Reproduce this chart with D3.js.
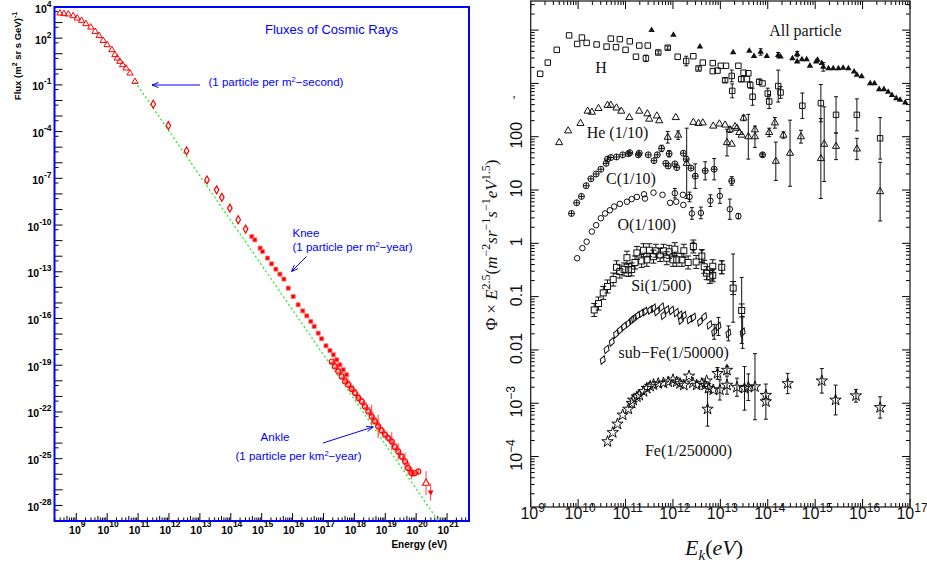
<!DOCTYPE html>
<html>
<head>
<meta charset="utf-8">
<script src="https://cdn.jsdelivr.net/npm/d3@7"></script>
<style>
body { margin: 0; background: #fff; }
</style>
</head>
<body>
<script>
// ---------- left panel: all-particle flux, values are [log10(E/eV), log10(flux), err in decades]
var fluxTri = [[8.47,3.60],[8.60,3.56],[8.74,3.54],[8.90,3.43],[9.03,3.28],[9.17,3.13],[9.31,2.92],[9.47,2.70],[9.61,2.42],[9.74,2.15],[9.87,1.84],[10.00,1.57],[10.15,1.25],[10.25,0.93],[10.33,0.71],[10.41,0.50],[10.50,0.28],[10.61,0.07],[10.74,-0.25],[10.90,-0.79]];
var fluxDiamond = [[11.49,-2.24],[11.98,-3.61],[12.57,-5.24],[13.23,-7.10],[13.54,-7.74],[13.71,-8.22],[13.97,-8.91],[14.24,-9.66],[14.48,-10.26]];
var fluxKnee = [[14.68,-10.74],[14.78,-10.95],[14.95,-11.48],[15.03,-11.70],[15.19,-12.12],[15.32,-12.49],[15.46,-12.83],[15.59,-13.15],[15.72,-13.47],[15.86,-14.05],[16.02,-14.59],[16.18,-15.12],[16.33,-15.51],[16.46,-15.83],[16.59,-16.19],[16.70,-16.51],[16.83,-16.94],[16.94,-17.30],[17.08,-17.75],[17.21,-18.05],[17.32,-18.33],[17.43,-18.65],[17.53,-18.97],[17.64,-19.29],[17.75,-19.61]];
var fluxUheA = [[17.27,-18.76,0],[17.37,-19.08,0],[17.48,-19.40,0],[17.59,-19.72,0],[17.70,-20.04,0],[17.80,-20.25,0],[17.91,-20.53,0],[18.02,-20.79,0],[18.13,-21.11,0],[18.24,-21.33,0],[18.34,-21.65,0],[18.45,-21.97,0],[18.56,-22.29,0.75],[18.67,-22.61,0],[18.77,-22.93,0.75],[18.88,-23.19,0],[18.99,-23.46,0],[19.10,-23.68,0],[19.21,-23.89,0.59],[19.31,-24.25,0],[19.42,-24.54,0.53],[19.53,-24.86,0],[19.64,-25.18,0.58],[19.74,-25.60,0.43],[19.85,-25.92,0.4],[19.96,-25.92,0],[20.07,-25.82,0.2]];
var fluxUheB = [[17.32,-18.85],[17.43,-19.15],[17.55,-19.45],[17.66,-19.80],[17.77,-20.05],[17.88,-20.35],[17.97,-20.60],[18.08,-20.90],[18.19,-21.15],[18.30,-21.45],[18.41,-21.75],[18.52,-22.05],[18.62,-22.40],[18.72,-22.70],[18.83,-23.00],[18.94,-23.30],[19.05,-23.55],[19.16,-23.80],[19.26,-24.05],[19.37,-24.35],[19.48,-24.70],[19.58,-25.00],[19.70,-25.35],[19.80,-25.70],[19.90,-25.95]];
var fluxTop = [[20.32,-26.57,0.77]];
var fluxLimit = [[20.47,-27.15,0.55]];
var guideLine = [[10.9,-0.8],[20.71,-28.98]];
var fluxYExp = [4, 2, -1, -4, -7, -10, -13, -16, -19, -22, -25, -28];
var fluxXExp = [9, 10, 11, 12, 13, 14, 15, 16, 17, 18, 19, 20, 21];

// ---------- right panel: [log10(E/eV), log10(Phi*E^2.5), err in decades]
var allPart = [[11.55,4.00,0],[12.01,3.91,0],[12.57,3.69,0],[13.27,3.58,0],[13.61,3.61,0],[13.71,3.51,0],[13.85,3.59,0.06],[13.98,3.51,0],[14.22,3.53,0.05],[14.27,3.50,0],[14.52,3.47,0],[14.62,3.55,0.05],[14.62,3.41,0],[14.72,3.45,0],[14.82,3.45,0],[14.89,3.33,0],[15.02,3.41,0],[15.05,3.44,0],[15.14,3.38,0],[15.17,3.31,0.08],[15.28,3.28,0],[15.38,3.28,0],[15.49,3.28,0],[15.59,3.29,0],[15.70,3.28,0],[15.82,3.22,0],[15.88,3.16,0],[15.98,3.13,0],[16.16,3.00,0],[16.25,3.00,0],[16.35,2.89,0],[16.45,2.89,0],[16.54,2.84,0],[16.62,2.78,0],[16.71,2.72,0],[16.79,2.69,0],[16.90,2.64,0]];
var protons = [[9.20,3.18,0],[9.36,3.39,0],[9.55,3.63,0],[9.81,3.90,0],[9.98,3.74,0],[10.08,3.86,0],[10.18,3.76,0],[10.39,3.73,0],[10.60,3.69,0],[10.69,3.84,0],[10.80,3.68,0],[10.88,3.83,0],[11.00,3.63,0],[11.09,3.79,0],[11.22,3.50,0],[11.29,3.71,0],[11.43,3.47,0.06],[11.47,3.71,0],[11.69,3.58,0.03],[11.89,3.67,0.03],[12.10,3.50,0],[12.28,3.42,0.09],[12.43,3.51,0],[12.54,3.28,0.03],[12.63,3.39,0],[12.84,3.38,0],[12.84,3.23,0],[12.94,3.24,0],[13.01,3.33,0],[13.12,3.33,0],[13.10,3.06,0.04],[13.24,3.14,0.11],[13.25,2.86,0.13],[13.38,3.33,0],[13.49,3.20,0],[13.44,3.08,0.05],[13.59,3.19,0],[13.56,3.08,0],[13.63,2.97,0.06],[13.68,2.75,0.16],[13.82,3.03,0.05],[13.89,3.00,0],[14.00,2.81,0.1],[14.03,2.66,0.13],[14.22,2.95,0.3],[14.27,2.83,0.11],[14.73,2.58,0.24],[15.12,2.63,0.35],[15.44,2.41,0.34],[15.88,2.41,0.30],[16.37,1.97,0.39]];
var helium = [[9.60,1.89,0],[9.79,2.11,0],[10.05,2.25,0],[10.20,2.48,0],[10.29,2.46,0],[10.43,2.53,0],[10.62,2.59,0],[10.69,2.59,0],[10.81,2.54,0],[10.91,2.48,0],[11.08,2.36,0],[11.29,2.48,0],[11.46,2.43,0],[11.50,2.33,0],[11.66,2.39,0],[11.71,2.30,0],[12.06,2.36,0],[11.89,1.99,0.11],[12.11,2.03,0.08],[12.29,1.50,0.66],[12.43,2.27,0],[12.54,2.25,0],[12.63,2.26,0],[12.85,2.20,0],[12.98,2.24,0],[13.10,2.22,0],[13.14,1.89,0.25],[13.24,1.86,0],[13.20,2.13,0.05],[13.31,2.19,0],[13.35,2.16,0],[13.40,2.08,0],[13.45,2.03,0],[13.49,2.35,0.05],[13.59,2.00,0.42],[13.73,2.00,0.2],[13.73,2.13,0],[14.03,2.08,0.08],[14.15,2.26,0.1],[14.17,1.54,0.36],[14.33,2.03,0.06],[14.47,1.69,0.62],[14.70,2.00,0.12],[15.12,1.59,0.75],[15.19,1.86,0.70],[15.44,1.82,0.25],[15.88,1.77,0.2],[16.37,0.97,0.55]];
var carbon = [[9.86,0.56,0],[9.97,0.76,0],[10.07,0.88,0],[10.17,1.08,0],[10.27,1.21,0],[10.38,1.30,0],[10.48,1.39,0],[10.59,1.50,0],[10.62,1.58,0],[10.69,1.61,0],[10.81,1.62,0],[10.94,1.66,0],[11.06,1.68,0],[11.09,1.70,0],[11.27,1.66,0],[11.29,1.69,0],[11.48,1.66,0],[11.60,1.55,0],[11.67,1.66,0],[11.76,1.78,0.06],[11.85,1.50,0],[11.92,1.68,0.06],[11.90,1.45,0],[12.04,1.49,0],[12.08,1.42,0],[12.22,1.69,0],[12.28,1.58,0],[12.38,1.41,0],[12.47,1.26,0.23],[12.68,1.36,0.17],[12.87,1.39,0.2],[13.24,1.17,0.08],[13.89,1.66,0.03]];
var oxygen = [[9.98,-0.28,0],[10.09,-0.09,0],[10.18,0.03,0],[10.29,0.22,0],[10.38,0.34,0],[10.48,0.47,0],[10.57,0.56,0],[10.67,0.62,0],[10.76,0.69,0],[10.88,0.74,0],[11.03,0.78,0],[11.13,0.83,0],[11.24,0.87,0],[11.39,0.92,0],[11.41,0.84,0],[11.59,0.95,0],[11.78,0.91,0],[11.94,0.76,0],[12.04,0.94,0.09],[12.07,0.78,0],[12.21,0.91,0],[12.22,0.72,0],[12.35,0.87,0.09],[12.40,0.56,0.11],[12.59,0.57,0.11],[12.79,0.80,0.11],[12.99,0.89,0.14],[13.20,0.64,0.19],[13.38,0.51,0.05]];
var silicon = [[10.34,-1.25,0],[10.43,-1.13,0],[10.53,-0.93,0],[10.62,-0.81,0],[10.74,-0.68,0],[10.81,-0.45,0],[10.88,-0.53,0],[10.97,-0.49,0],[11.06,-0.50,0],[11.03,-0.27,0],[11.13,-0.49,0],[11.20,-0.36,0],[11.24,-0.18,0],[11.34,-0.33,0],[11.38,-0.13,0],[11.45,-0.31,0],[11.50,-0.13,0],[11.59,-0.25,0],[11.64,-0.14,0],[11.73,-0.22,0],[11.80,-0.14,0],[11.87,-0.28,0],[11.92,-0.16,0],[12.00,-0.31,0],[12.04,-0.11,0],[12.08,-0.31,0],[12.19,-0.31,0],[12.23,-0.14,0],[12.32,-0.36,0],[12.43,-0.06,0.08],[12.49,-0.35,0],[12.61,-0.24,0.11],[12.66,-0.44,0],[12.71,-0.56,0],[12.78,-0.63,0],[12.84,-0.43,0],[12.84,-0.60,0.09],[13.03,-0.45,0.12],[13.27,-0.84,0.64],[13.45,-1.26,0.62]];
var subIron = [[10.52,-2.19,0],[10.60,-1.99,0],[10.71,-1.85,0],[10.80,-1.70,0],[10.88,-1.63,0],[10.97,-1.56,0],[11.06,-1.50,0],[11.13,-1.44,0],[11.18,-1.41,0],[11.25,-1.36,0],[11.34,-1.31,0],[11.41,-1.28,0],[11.52,-1.25,0],[11.59,-1.22,0],[11.66,-1.28,0],[11.76,-1.20,0],[11.80,-1.35,0],[11.87,-1.25,0],[11.97,-1.26,0],[12.07,-1.30,0],[12.15,-1.35,0],[12.17,-1.44,0],[12.23,-1.36,0],[12.35,-1.43,0],[12.43,-1.39,0],[12.57,-1.47,0],[12.66,-1.38,0],[12.77,-1.53,0],[12.87,-1.66,0.14],[12.96,-1.56,0.17],[13.17,-1.69,0.14],[13.47,-1.67,0.3]];
var iron = [[10.62,-3.72,0],[10.73,-3.55,0],[10.83,-3.39,0],[10.94,-3.22,0],[11.06,-3.11,0],[11.13,-3.00,0],[11.16,-2.94,0],[11.24,-2.88,0],[11.29,-2.85,0],[11.38,-2.78,0],[11.45,-2.72,0],[11.52,-2.68,0],[11.59,-2.65,0],[11.69,-2.63,0],[11.80,-2.62,0],[11.90,-2.60,0],[12.00,-2.56,0],[12.08,-2.60,0],[12.15,-2.63,0],[12.23,-2.66,0],[12.34,-2.49,0],[12.42,-2.62,0],[12.50,-2.66,0],[12.61,-2.63,0],[12.71,-2.58,0],[12.68,-2.66,0],[12.75,-2.72,0],[12.73,-3.11,0.32],[12.85,-2.75,0],[12.94,-2.44,0.11],[12.99,-2.75,0.19],[13.14,-2.38,0.07],[13.14,-2.66,0.17],[13.35,-2.70,0.17],[13.51,-2.72,0.41],[13.59,-2.70,0.25],[13.73,-2.69,0.62],[13.96,-2.85,0],[13.96,-2.97,0.33],[14.42,-2.63,0.19],[15.14,-2.58,0.23],[15.43,-2.94,0.28],[15.86,-2.86,0.12],[16.37,-3.08,0.2]];
var specYTicks = [-4, -3, -2, -1, 0, 1, 2];
var specYLabels = [['10','-4'], ['10','-3'], ['0.01',''], ['0.1',''], ['1',''], ['10',''], ['100','']];
var specXExp = [9, 10, 11, 12, 13, 14, 15, 16, 17];
// series names: [text, log10 E at text start, log10 value at baseline]
var specNames = [
  ['All particle', 14.03, 3.89],
  ['H', 10.36, 3.20],
  ['He (1/10)', 10.18, 1.98],
  ['C(1/10)', 10.59, 1.11],
  ['O(1/100)', 10.83, 0.25],
  ['Si(1/500)', 11.12, -0.90],
  ['sub\u2212Fe(1/50000)', 10.85, -2.15],
  ['Fe(1/250000)', 11.41, -3.99]
];

var svg = d3.select('body').append('svg')
  .attr('width', 927).attr('height', 562)
  .style('background', '#fff');

var sans = '"Liberation Sans", Arial, sans-serif';
var serif = '"Liberation Serif", "Times New Roman", serif';

function errBars(g, data, x, y, color, cap) {
  g.append('g').selectAll('path')
    .data(data.filter(function(d) { return d[2] > 0; }))
    .enter().append('path')
    .attr('d', function(d) {
      var px = x(d[0]), a = y(d[1] + d[2]), b = y(d[1] - d[2]);
      return 'M' + (px - cap) + ',' + a + 'H' + (px + cap) + 'M' + px + ',' + a + 'V' + b +
        'M' + (px - cap) + ',' + b + 'H' + (px + cap);
    })
    .attr('fill', 'none').attr('stroke', color).attr('stroke-width', 1);
}

function symbols(g, data, x, y, type, size, fill, stroke, sw) {
  g.append('g').selectAll('path')
    .data(data).enter().append('path')
    .attr('transform', function(d) { return 'translate(' + x(d[0]) + ',' + y(d[1]) + ')'; })
    .attr('d', d3.symbol().type(type).size(size))
    .attr('fill', fill).attr('stroke', stroke).attr('stroke-width', sw);
}

// =============== LEFT PANEL ===============
var L = { left: 54.5, right: 469, top: 7, bottom: 521 };
var lx = d3.scaleLinear().domain([8.295, 21.71]).range([L.left, L.right]);
var ly = d3.scaleLinear().domain([-29, 4]).range([L.bottom, L.top]);
var blue = '#0000ff';
var red = '#ff0000';

var lg = svg.append('g');

// y ticks (each decade, plus 5x10^n)
var yt = [];
for (var e = -29; e <= 4; e++) {
  yt.push([e, 8]);
  if (e + Math.log10(5) < 4) yt.push([e + Math.log10(5), 4]);
}
lg.append('g').selectAll('line').data(yt).enter().append('line')
  .attr('x1', L.left).attr('x2', function(d) { return L.left + d[1]; })
  .attr('y1', function(d) { return ly(d[0]); }).attr('y2', function(d) { return ly(d[0]); })
  .attr('stroke', '#000').attr('stroke-width', 1);

// x ticks (decades + 2..9)
var xt = [];
for (var dd = 8; dd <= 21; dd++) {
  for (var k = 1; k <= 9; k++) {
    var v = dd + Math.log10(k);
    if (v > 8.3 && v < 21.7) xt.push([v, k === 1 ? 8 : (k === 5 ? 5 : 3.5)]);
  }
}
lg.append('g').selectAll('line').data(xt).enter().append('line')
  .attr('x1', function(d) { return lx(d[0]); }).attr('x2', function(d) { return lx(d[0]); })
  .attr('y1', L.bottom).attr('y2', function(d) { return L.bottom - d[1]; })
  .attr('stroke', '#000').attr('stroke-width', 1);

// frame
lg.append('rect')
  .attr('x', L.left).attr('y', L.top)
  .attr('width', L.right - L.left).attr('height', L.bottom - L.top)
  .attr('fill', 'none').attr('stroke', blue).attr('stroke-width', 2);

// y tick labels
var ylab = lg.append('g').selectAll('text').data(fluxYExp).enter().append('text')
  .attr('x', 51.5).attr('y', function(d) { return ly(d) + 5.5; })
  .attr('text-anchor', 'end')
  .style('font-family', sans).style('font-weight', 'bold').style('font-size', '10.5px');
ylab.append('tspan').text('10');
ylab.append('tspan').attr('dy', -6).style('font-size', '8.5px').text(function(d) { return d; });

// x tick labels
var xlab = lg.append('g').selectAll('text').data(fluxXExp).enter().append('text')
  .attr('x', function(d) { return lx(d) + 1; }).attr('y', 533.5)
  .attr('text-anchor', 'middle')
  .style('font-family', sans).style('font-weight', 'bold').style('font-size', '10.5px');
xlab.append('tspan').text('10');
xlab.append('tspan').attr('dy', -6.5).style('font-size', '8.5px').text(function(d) { return d; });

// axis titles
var ytitle = lg.append('text')
  .attr('transform', 'translate(21,56) rotate(-90)')
  .attr('text-anchor', 'middle')
  .style('font-family', sans).style('font-weight', 'bold').style('font-size', '9.5px');
ytitle.append('tspan').text('Flux (m');
ytitle.append('tspan').attr('dy', -4).style('font-size', '7px').text('2');
ytitle.append('tspan').attr('dy', 4).text(' sr s GeV)');
ytitle.append('tspan').attr('dy', -4).style('font-size', '7px').text('-1');

lg.append('text').attr('x', 447).attr('y', 548).attr('text-anchor', 'end')
  .style('font-family', sans).style('font-weight', 'bold').style('font-size', '10px')
  .text('Energy (eV)');

// guide line
lg.append('path')
  .attr('d', d3.line().x(function(d) { return lx(d[0]); }).y(function(d) { return ly(d[1]); })(guideLine))
  .attr('fill', 'none').attr('stroke', '#22ee22').attr('stroke-width', 1.3)
  .attr('stroke-dasharray', '2,2.5');

// data
symbols(lg, fluxTri, lx, ly, d3.symbolTriangle, 17, 'none', red, 1);
symbols(lg, fluxDiamond, lx, ly, d3.symbolDiamond, 18, 'none', red, 1.2);
symbols(lg, fluxKnee, lx, ly, d3.symbolSquare, 17, red, '#ff8080', 0.8);
errBars(lg, fluxUheA, lx, ly, '#ff4040', 0);
symbols(lg, fluxUheB, lx, ly, d3.symbolCross, 22, '#ff6060', 'none', 0);
symbols(lg, fluxUheA, lx, ly, d3.symbolCircle, 20, 'none', red, 1.2);
errBars(lg, fluxTop, lx, ly, '#ff4040', 0);
symbols(lg, fluxTop, lx, ly, d3.symbolTriangle, 22, '#fff', red, 1.1);
errBars(lg, fluxLimit, lx, ly, '#ff4040', 0);
lg.append('g').selectAll('path').data(fluxLimit).enter().append('path')
  .attr('transform', function(d) { return 'translate(' + lx(d[0]) + ',' + ly(d[1]) + ') rotate(180)'; })
  .attr('d', d3.symbol().type(d3.symbolTriangle).size(14))
  .attr('fill', red);

// annotations
var ann = lg.append('g').style('font-family', sans).attr('fill', blue);
ann.append('text').attr('x', 331.5).attr('y', 34).attr('text-anchor', 'middle')
  .style('font-size', '13px').text('Fluxes of Cosmic Rays');

function partText(x, y, anchor, pre, post) {
  var t = ann.append('text').attr('x', x).attr('y', y).attr('text-anchor', anchor)
    .style('font-size', '11.5px');
  t.append('tspan').text(pre);
  t.append('tspan').attr('dy', -4).style('font-size', '7.5px').text('2');
  t.append('tspan').attr('dy', 4).text(post);
}
partText(208.5, 86, 'start', '(1 particle per m', '\u2212second)');
ann.append('text').attr('x', 292.5).attr('y', 237).style('font-size', '11.5px').text('Knee');
partText(292.5, 251, 'start', '(1 particle per m', '\u2212year)');
ann.append('text').attr('x', 275).attr('y', 441).attr('text-anchor', 'middle').style('font-size', '11.5px').text('Ankle');
partText(298.5, 460, 'middle', '(1 particle per km', '\u2212year)');

function arrow(x1, y1, x2, y2) {
  var a = Math.atan2(y2 - y1, x2 - x1), h = 7, w = 0.38;
  var p = 'M' + x1 + ',' + y1 + 'L' + x2 + ',' + y2 +
    'M' + (x2 - h * Math.cos(a - w)) + ',' + (y2 - h * Math.sin(a - w)) + 'L' + x2 + ',' + y2 +
    'L' + (x2 - h * Math.cos(a + w)) + ',' + (y2 - h * Math.sin(a + w));
  lg.append('path').attr('d', p).attr('fill', 'none').attr('stroke', blue).attr('stroke-width', 1);
}
arrow(200, 85, 152, 85);
arrow(306.5, 256.5, 291.5, 271.5);
arrow(323, 443, 373, 427);

// =============== RIGHT PANEL ===============
var R = { left: 530.7, right: 910, top: 1, bottom: 507 };
var rx = d3.scaleLinear().domain([9, 17]).range([R.left, R.right]);
var ry = d3.scaleLinear().domain([-4.947, 4.546]).range([R.bottom, R.top]);
var rg = svg.append('g');

var rxt = [], ryt = [];
for (var d1 = 9; d1 <= 17; d1++) {
  for (var k1 = 1; k1 <= 9; k1++) {
    var v1 = d1 + Math.log10(k1);
    if (v1 <= 17.001) rxt.push([v1, k1 === 1 ? 8 : 4]);
  }
}
for (var d2 = -5; d2 <= 4; d2++) {
  for (var k2 = 1; k2 <= 9; k2++) {
    var v2 = d2 + Math.log10(k2);
    if (v2 > -4.947 && v2 < 4.546) ryt.push([v2, k2 === 1 ? 8 : 4]);
  }
}
var tk = rg.append('g').attr('stroke', '#000').attr('stroke-width', 1);
tk.selectAll('.xb').data(rxt).enter().append('line').attr('class', 'xb')
  .attr('x1', function(d) { return rx(d[0]); }).attr('x2', function(d) { return rx(d[0]); })
  .attr('y1', R.bottom).attr('y2', function(d) { return R.bottom - d[1]; });
tk.selectAll('.xt').data(rxt).enter().append('line').attr('class', 'xt')
  .attr('x1', function(d) { return rx(d[0]); }).attr('x2', function(d) { return rx(d[0]); })
  .attr('y1', R.top).attr('y2', function(d) { return R.top + d[1]; });
tk.selectAll('.yl').data(ryt).enter().append('line').attr('class', 'yl')
  .attr('y1', function(d) { return ry(d[0]); }).attr('y2', function(d) { return ry(d[0]); })
  .attr('x1', R.left).attr('x2', function(d) { return R.left + d[1]; });
tk.selectAll('.yr').data(ryt).enter().append('line').attr('class', 'yr')
  .attr('y1', function(d) { return ry(d[0]); }).attr('y2', function(d) { return ry(d[0]); })
  .attr('x1', R.right).attr('x2', function(d) { return R.right - d[1]; });

rg.append('rect').attr('x', R.left).attr('y', R.top)
  .attr('width', R.right - R.left).attr('height', R.bottom - R.top)
  .attr('fill', 'none').attr('stroke', '#222').attr('stroke-width', 1.3);

// x tick labels
var rxl = rg.append('g').selectAll('text').data(specXExp).enter().append('text')
  .attr('x', function(d) { return rx(d) + 2; }).attr('y', 518.5)
  .attr('text-anchor', 'middle')
  .style('font-family', sans).style('font-size', '16px').attr('fill', '#111');
rxl.append('tspan').text('10');
rxl.append('tspan').attr('dy', -7).style('font-size', '12px').text(function(d) { return d; });

// y tick labels (rotated)
var ryl = rg.append('g').selectAll('text').data(specYTicks).enter().append('text')
  .attr('transform', function(d) { return 'translate(521.5,' + (ry(d) - 1.5) + ') rotate(-90)'; })
  .attr('text-anchor', 'middle')
  .style('font-family', sans).style('font-size', '16px').attr('fill', '#111');
ryl.append('tspan').text(function(d, i) { return specYLabels[i][0]; });
ryl.append('tspan').attr('dy', -7).style('font-size', '12px')
  .text(function(d, i) { return specYLabels[i][1] ? specYLabels[i][1].replace('-', '\u2212') : ''; });

// stray mark left of the axis
rg.append('text').attr('x', 512).attr('y', 104)
  .style('font-family', serif).style('font-size', '12px').attr('fill', '#111').text('\u2019');

// axis titles
var rt = rg.append('text')
  .attr('transform', 'translate(497,245) rotate(-90)')
  .attr('text-anchor', 'middle')
  .style('font-family', serif).style('font-size', '17px').attr('fill', '#111');
rt.append('tspan').text('\u03A6 \u00D7 ');
rt.append('tspan').style('font-style', 'italic').text('E');
rt.append('tspan').attr('dy', -7).style('font-size', '12px').text('2.5');
rt.append('tspan').attr('dy', 7).text('(');
rt.append('tspan').style('font-style', 'italic').text('m');
rt.append('tspan').attr('dy', -7).style('font-size', '12px').text('\u22122');
rt.append('tspan').attr('dy', 7).style('font-style', 'italic').text('sr');
rt.append('tspan').attr('dy', -7).style('font-size', '12px').text('\u22121');
rt.append('tspan').attr('dy', 7).style('font-style', 'italic').text('s');
rt.append('tspan').attr('dy', -7).style('font-size', '12px').text('\u22121');
rt.append('tspan').attr('dy', 7).style('font-style', 'italic').text('eV');
rt.append('tspan').attr('dy', -7).style('font-size', '12px').text('1.5');
rt.append('tspan').attr('dy', 7).text(')');

var xtl = rg.append('text').attr('x', 685).attr('y', 555)
  .style('font-family', serif).style('font-size', '22px').attr('fill', '#111');
xtl.append('tspan').style('font-style', 'italic').text('E');
xtl.append('tspan').attr('dy', 5).style('font-size', '15px').style('font-style', 'italic').text('k');
xtl.append('tspan').attr('dy', -5).text('(');
xtl.append('tspan').style('font-style', 'italic').text('eV');
xtl.append('tspan').text(')');

// series names
rg.append('g').selectAll('text').data(specNames).enter().append('text')
  .attr('x', function(d) { return rx(d[1]); }).attr('y', function(d) { return ry(d[2]); })
  .style('font-family', serif).style('font-size', '16px').attr('fill', '#111')
  .text(function(d) { return d[0]; });

// series
var ink = '#111';
errBars(rg, allPart, rx, ry, ink, 2);
symbols(rg, allPart, rx, ry, d3.symbolTriangle, 18, ink, 'none', 0);

errBars(rg, protons, rx, ry, ink, 2);
symbols(rg, protons, rx, ry, d3.symbolSquare, 30, 'none', ink, 1);

errBars(rg, helium, rx, ry, ink, 2);
symbols(rg, helium, rx, ry, d3.symbolTriangle, 22, 'none', ink, 1);

errBars(rg, carbon, rx, ry, ink, 2);
var cg = rg.append('g').selectAll('g').data(carbon).enter().append('g')
  .attr('transform', function(d) { return 'translate(' + rx(d[0]) + ',' + ry(d[1]) + ')'; });
cg.append('circle').attr('r', 3).attr('fill', 'none').attr('stroke', ink).attr('stroke-width', 1);
cg.append('path').attr('d', 'M-3,0H3M0,-3V3').attr('stroke', ink).attr('stroke-width', 1);

errBars(rg, oxygen, rx, ry, ink, 2);
symbols(rg, oxygen, rx, ry, d3.symbolCircle, 24, 'none', ink, 1);

errBars(rg, silicon, rx, ry, ink, 2);
var sg = rg.append('g').selectAll('g').data(silicon).enter().append('g')
  .attr('transform', function(d) { return 'translate(' + rx(d[0]) + ',' + ry(d[1]) + ')'; });
sg.append('path').attr('d', 'M-3,-6.5H3M0,-6.5V-3M-3,6.5H3M0,6.5V3')
  .attr('fill', 'none').attr('stroke', ink).attr('stroke-width', 1);
sg.append('rect').attr('x', -3).attr('y', -3).attr('width', 6).attr('height', 6)
  .attr('fill', 'none').attr('stroke', ink).attr('stroke-width', 1);

errBars(rg, subIron, rx, ry, ink, 2);
rg.append('g').selectAll('path').data(subIron).enter().append('path')
  .attr('transform', function(d) { return 'translate(' + rx(d[0]) + ',' + ry(d[1]) + ') rotate(20)'; })
  .attr('d', d3.symbol().type(d3.symbolDiamond).size(24))
  .attr('fill', 'none').attr('stroke', ink).attr('stroke-width', 1);

errBars(rg, iron, rx, ry, ink, 2);
symbols(rg, iron, rx, ry, d3.symbolStar, 40, 'none', ink, 1);
</script>
</body>
</html>
